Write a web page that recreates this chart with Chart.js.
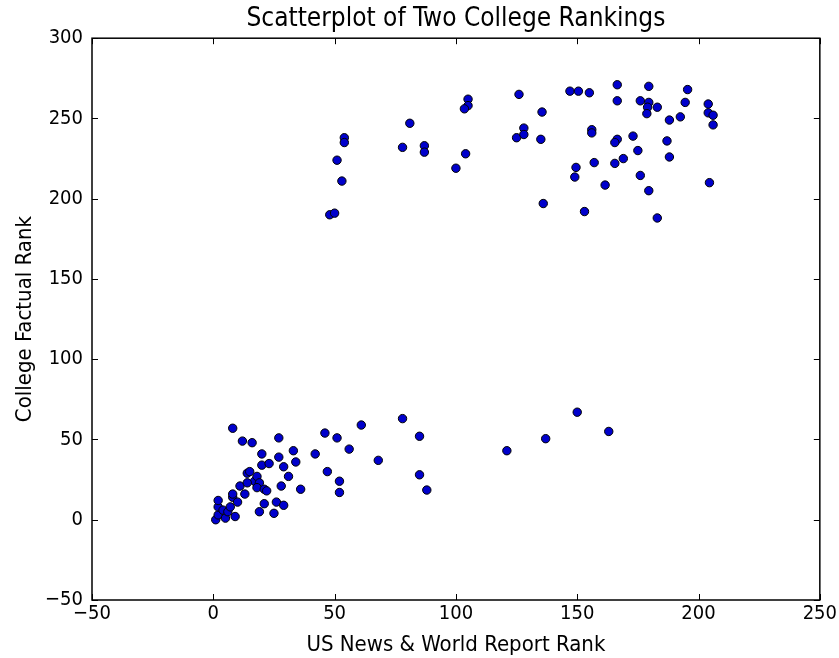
<!DOCTYPE html>
<html>
<head>
<meta charset="utf-8">
<script src="https://cdn.jsdelivr.net/npm/chart.js@4.4.1/dist/chart.umd.min.js"></script>
<style>
  html, body { margin: 0; padding: 0; background: #ffffff; }
  #wrap { width: 839px; height: 658px; }
</style>
</head>
<body>
<div id="wrap"><canvas id="c" width="839" height="658"></canvas></div>
<script>
const chartTitle = 'Scatterplot of Two College Rankings';
const xTitle = 'US News & World Report Rank';
const yTitle = 'College Factual Rank';
const xTickValues = [-50, 0, 50, 100, 150, 200, 250];
const yTickValues = [-50, 0, 50, 100, 150, 200, 250, 300];

// US News rank (x) and College Factual rank (y)
const usNewsRank = [
  1, 2, 2, 2, 4, 5, 6, 7, 8, 9, 10, 8, 8, 11, 12, 13, 14, 15, 16, 17,
  14, 18, 19, 18, 21, 22, 19, 20, 20, 23, 27, 27, 29, 28, 26, 29, 25, 21, 31, 33,
  34, 36, 42, 46, 47, 51, 52, 52, 56, 61, 68,
  78, 85, 85, 88, 121, 137, 150, 163,
  48, 50, 53, 51, 54, 54, 78, 81, 87, 87, 100, 104, 105, 105, 103.5, 126, 125,
  135.5, 128, 128, 135, 147, 150.5, 155, 166.5, 179.5, 195.5, 166.5, 176, 179.5, 179, 183, 178.7,
  194.5, 204, 204, 206, 206, 192.5, 188, 156, 156, 136, 173, 166.5, 165.5, 187, 175, 188,
  169, 165.5, 157, 149.5, 149, 176, 161.5, 179.5, 204.5, 153, 183
];
const collegeFactualRank = [
  0, 3, 8, 12, 6, 1, 5, 8, 14, 2, 11, 16, 57, 21, 49, 16, 29, 30, 48, 24,
  23, 27, 23, 20, 19, 18, 5, 41, 34, 35, 39, 51, 33, 21, 11, 9, 4, 10, 27, 43,
  36, 19, 41, 54, 30, 51, 24, 17, 44, 59, 37,
  63, 52, 28, 18.5, 43, 50.5, 67, 55,
  190, 191, 211, 224, 238, 235, 232, 247, 233, 229, 219, 228, 262, 258, 256, 265, 238,
  254, 244, 240, 237, 267, 267, 266, 271, 270, 268, 261, 261, 260, 257, 257, 253,
  260, 259, 253.5, 252, 246, 251, 249, 243, 241, 197, 239, 237, 235, 236, 230, 226,
  225, 222, 222.5, 219.5, 213.5, 214.5, 208.5, 205, 210, 192, 188
];

const points = usNewsRank.map((x, i) => ({ x: x, y: collegeFactualRank[i] }));
const FONT = "'DejaVu Sans Condensed', 'DejaVu Sans', sans-serif";
const minus = v => String(v).replace('-', '\u2212');

const frameTicks = {
  id: 'frameTicks',
  afterLayout(chart) {
    // center the title over the plot area, as matplotlib does
    const tb = chart.titleBlock;
    if (tb) {
      tb.left = chart.chartArea.left;
      tb.right = chart.chartArea.right;
      tb.width = tb.right - tb.left;
    }
  },
  afterDraw(chart) {
    const ctx = chart.ctx;
    const a = chart.chartArea;
    const xs = chart.scales.x, ys = chart.scales.y;
    ctx.save();
    ctx.strokeStyle = '#000';
    ctx.lineWidth = 1;
    const L = 6;
    ctx.beginPath();
    xs.ticks.forEach(t => {
      const px = Math.round(xs.getPixelForValue(t.value)) + 0.5;
      ctx.moveTo(px, a.bottom); ctx.lineTo(px, a.bottom - L);
      ctx.moveTo(px, a.top); ctx.lineTo(px, a.top + L);
    });
    ys.ticks.forEach(t => {
      const py = Math.round(ys.getPixelForValue(t.value)) + 0.5;
      ctx.moveTo(a.left, py); ctx.lineTo(a.left + L, py);
      ctx.moveTo(a.right, py); ctx.lineTo(a.right - L, py);
    });
    ctx.stroke();
    ctx.lineWidth = 1.5;
    ctx.strokeRect(a.left, a.top, a.right - a.left, a.bottom - a.top);
    ctx.restore();
  }
};

new Chart(document.getElementById('c'), {
  type: 'scatter',
  data: {
    datasets: [{
      data: points,
      backgroundColor: '#0000cc',
      borderColor: '#000000',
      borderWidth: 1,
      pointRadius: 4.2,
      pointHoverRadius: 4.2
    }]
  },
  options: {
    responsive: false,
    animation: false,
    events: [],
    layout: { padding: { left: 0, right: 18, top: 0, bottom: 0 } },
    plugins: {
      legend: { display: false },
      tooltip: { enabled: false },
      title: {
        display: true,
        text: chartTitle,
        color: '#000',
        font: { family: FONT, size: 26, weight: 'normal', lineHeight: 1.2 },
        padding: { top: 4, bottom: 3 }
      }
    },
    scales: {
      x: {
        type: 'linear',
        min: -50, max: 250,
        afterBuildTicks: s => { s.ticks = xTickValues.map(v => ({ value: v })); },
        afterFit: s => { s.height = 58; },
        grid: { display: false, drawTicks: false },
        border: { display: false },
        ticks: {
          color: '#000', padding: 2, maxRotation: 0, autoSkip: false,
          font: { family: FONT, size: 20 },
          callback: v => minus(v)
        },
        title: {
          display: true, text: xTitle, color: '#000',
          font: { family: FONT, size: 22, lineHeight: 1.2 },
          padding: { top: 0, bottom: 0 }
        }
      },
      y: {
        type: 'linear',
        min: -50, max: 300,
        afterBuildTicks: s => { s.ticks = yTickValues.map(v => ({ value: v })); },
        afterFit: s => { s.width = 92; },
        grid: { display: false, drawTicks: false },
        border: { display: false },
        ticks: {
          color: '#000', padding: 9, autoSkip: false,
          font: { family: FONT, size: 20 },
          callback: v => minus(v)
        },
        title: {
          display: true, text: yTitle, color: '#000',
          font: { family: FONT, size: 22, lineHeight: 1.2 },
          padding: { top: 12, bottom: 0 }
        }
      }
    }
  },
  plugins: [frameTicks]
});
</script>
</body>
</html>
